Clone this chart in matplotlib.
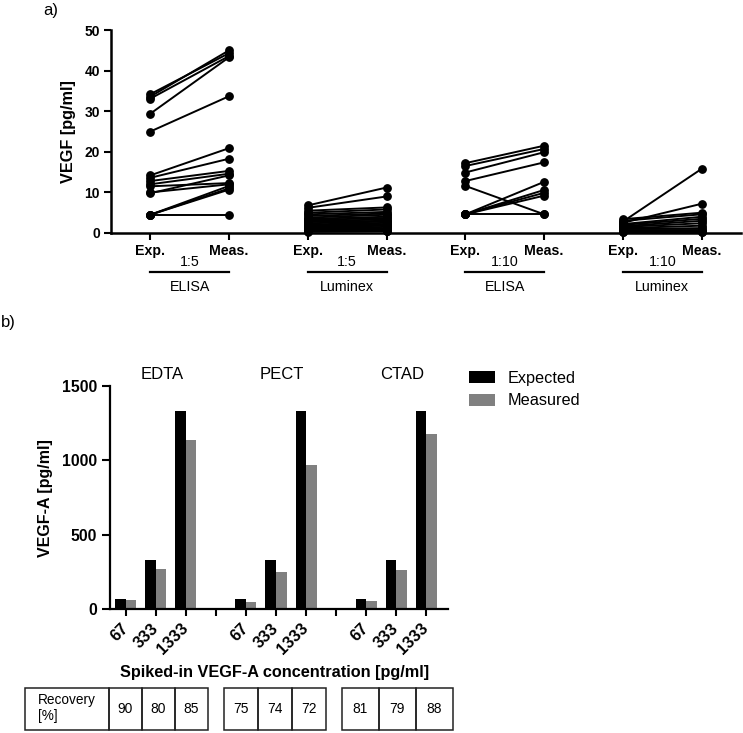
import numpy as np
import matplotlib
matplotlib.use("Agg")
import matplotlib.pyplot as plt
from matplotlib.patches import Rectangle
from matplotlib.lines import Line2D
from matplotlib.transforms import blended_transform_factory

plt.rcParams['font.family'] = ['Liberation Sans', 'DejaVu Sans']

# ---- panel a data (paired Exp. -> Meas.) ----
elisa5_exp = [34.2, 33.6, 33.1, 29.4, 25.0, 14.2, 13.6, 12.8, 12.0, 11.5, 10.0, 9.8, 4.5, 4.5, 4.5, 4.5]
elisa5_meas = [44.3, 45.0, 43.6, 43.3, 33.7, 20.9, 18.3, 15.3, 14.6, 12.3, 12.0, 14.2, 11.6, 11.0, 10.7, 4.5]

lum5_exp = [6.8, 6.2, 5.5, 5.0, 4.6, 4.2, 3.8, 3.5, 3.2, 3.0, 2.7, 2.4, 2.1, 1.9, 1.6, 1.4, 1.2, 1.0, 0.8, 0.6, 0.5, 0.4, 0.3]
lum5_meas = [11.2, 9.0, 6.3, 5.8, 5.2, 4.8, 4.5, 4.0, 3.7, 3.3, 3.0, 2.8, 2.5, 2.2, 2.0, 1.8, 1.5, 1.2, 1.0, 0.8, 0.6, 0.5, 0.4]

elisa10_exp = [17.2, 16.5, 14.9, 12.8, 11.6, 4.6, 4.6, 4.6, 4.6, 4.6]
elisa10_meas = [21.5, 20.7, 19.9, 17.4, 4.6, 12.6, 10.6, 9.9, 9.2, 4.6]

lum10_exp = [2.8, 2.5, 3.4, 3.0, 2.2, 2.0, 1.7, 1.5, 1.2, 1.0, 0.8, 0.5, 0.3, 0.2]
lum10_meas = [15.8, 7.2, 5.0, 4.6, 4.0, 3.5, 3.0, 2.4, 1.8, 1.2, 0.8, 0.5, 0.3, 0.2]

dilutions = ['1:5', '1:5', '1:10', '1:10']
methods = ['ELISA', 'Luminex', 'ELISA', 'Luminex']
pair_labels = ['Exp.', 'Meas.']

# ---- panel b data ----
anticoagulants = ['EDTA', 'PECT', 'CTAD']
spiked = ['67', '333', '1333']
expected = [67, 333, 1333]
measured = {
    'EDTA': [62, 272, 1135],
    'PECT': [52, 250, 968],
    'CTAD': [56, 265, 1175],
}
recovery = {
    'EDTA': [90, 80, 85],
    'PECT': [75, 74, 72],
    'CTAD': [81, 79, 88],
}

W, H = 743, 733
fig = plt.figure(figsize=(W / 100, H / 100), dpi=100)


def fy(py):
    # pixel row from top -> figure fraction
    return 1 - py / H


# ================= panel a =================
ax = fig.add_axes([111 / W, fy(233), 630 / W, 203 / H])
groups = [(elisa5_exp, elisa5_meas), (lum5_exp, lum5_meas),
          (elisa10_exp, elisa10_meas), (lum10_exp, lum10_meas)]
for g, (e, m) in enumerate(groups):
    for a, b in zip(e, m):
        ax.plot([2 * g, 2 * g + 1], [a, b], '-o', color='black', lw=1.4,
                ms=5.3, clip_on=False, zorder=3)

ax.set_xlim(-0.5, 7.5)
ax.set_ylim(0, 50)
ax.set_yticks(range(0, 51, 10))
ax.set_xticks(range(8))
ax.set_xticklabels(pair_labels * 4, fontweight='bold', fontsize=10.2)
for lab in ax.get_yticklabels():
    lab.set_fontweight('bold')
    lab.set_fontsize(10)
ax.set_ylabel('VEGF [pg/ml]', fontweight='bold', fontsize=11.7, labelpad=6)
for s in ['top', 'right']:
    ax.spines[s].set_visible(False)
for s in ['left', 'bottom']:
    ax.spines[s].set_linewidth(1.8)
ax.tick_params(axis='both', width=1.5, length=5, pad=3)

bt = blended_transform_factory(ax.transData, fig.transFigure)
for g in range(4):
    fig.add_artist(Line2D([2 * g, 2 * g + 1], [fy(272), fy(272)], color='black',
                          lw=1.6, transform=bt))
    fig.text(2 * g + 0.5, fy(262), dilutions[g], transform=bt, ha='center',
             va='center', fontsize=10.3)
    fig.text(2 * g + 0.5, fy(287), methods[g], transform=bt, ha='center',
             va='center', fontsize=10.3)

fig.text(43 / W, fy(10), 'a)', fontsize=12, va='center', ha='left')

# ================= panel b =================
axb = fig.add_axes([110 / W, fy(609.3), 338 / W, 223.3 / H])
bw = 0.35
tick_pos = []
tick_lab = []
for gi, name in enumerate(anticoagulants):
    base = 4 * gi
    xs = np.arange(3) + base
    axb.bar(xs - bw / 2, expected, width=bw, color='black',
            label='Expected' if gi == 0 else None)
    axb.bar(xs + bw / 2, measured[name], width=bw, color='#808080',
            label='Measured' if gi == 0 else None)
    axb.text(base + 1.2, fy(374), name, transform=blended_transform_factory(axb.transData, fig.transFigure),
             ha='center', va='center', fontsize=12)
    for k in range(3):
        tick_pos.append(base + k)
        tick_lab.append(spiked[k])
    if gi < 2:
        tick_pos.append(base + 3)
        tick_lab.append('')

axb.set_xlim(-0.53, 10.73)
axb.set_ylim(0, 1500)
axb.set_yticks([0, 500, 1000, 1500])
axb.set_xticks(tick_pos)
axb.set_xticklabels(tick_lab, rotation=45, ha='right', va='center',
                    rotation_mode='anchor', fontweight='bold', fontsize=11.8)
for lab in axb.get_yticklabels():
    lab.set_fontweight('bold')
    lab.set_fontsize(11.4)
axb.set_ylabel('VEGF-A [pg/ml]', fontweight='bold', fontsize=11.5, labelpad=6)
for s in ['top', 'right']:
    axb.spines[s].set_visible(False)
for s in ['left', 'bottom']:
    axb.spines[s].set_linewidth(1.6)
axb.tick_params(axis='y', width=1.5, length=6)
axb.tick_params(axis='x', width=1.5, length=5, pad=7)

axb.legend(loc='upper left', bbox_to_anchor=(469 / W, fy(371)),
           bbox_transform=fig.transFigure, frameon=False, fontsize=11.7,
           handlelength=1.6, handleheight=0.75, handletextpad=0.8,
           labelspacing=0.45, borderpad=0, borderaxespad=0)

fig.text(275 / W, fy(673), 'Spiked-in VEGF-A concentration [pg/ml]',
         ha='center', va='center', fontweight='bold', fontsize=11.7)

# recovery table under the bars
tb = blended_transform_factory(axb.transData, fig.transFigure)
y0, y1 = fy(730), fy(688)
fig.add_artist(Rectangle((-3.37, y0), 2.8, y1 - y0, transform=tb,
                         fill=False, edgecolor='#222222', lw=1.1))
fig.text(38 / W, fy(700), 'Recovery', fontsize=9.8, va='center', ha='left')
fig.text(38 / W, fy(716), '[%]', fontsize=9.8, va='center', ha='left')
starts = [-0.57, 3.27, 7.2]
cw = [1.1, 1.13, 1.23]
for gi, name in enumerate(anticoagulants):
    for k in range(3):
        x0 = starts[gi] + k * cw[gi]
        fig.add_artist(Rectangle((x0, y0), cw[gi], y1 - y0, transform=tb,
                                 fill=False, edgecolor='#222222', lw=1.1))
        fig.text(x0 + cw[gi] / 2, (y0 + y1) / 2, str(recovery[name][k]),
                 transform=tb, ha='center', va='center', fontsize=9.9)

fig.text(1 / W, fy(322), 'b)', fontsize=12, va='center', ha='left')

fig.savefig('out.png', dpi=100)
